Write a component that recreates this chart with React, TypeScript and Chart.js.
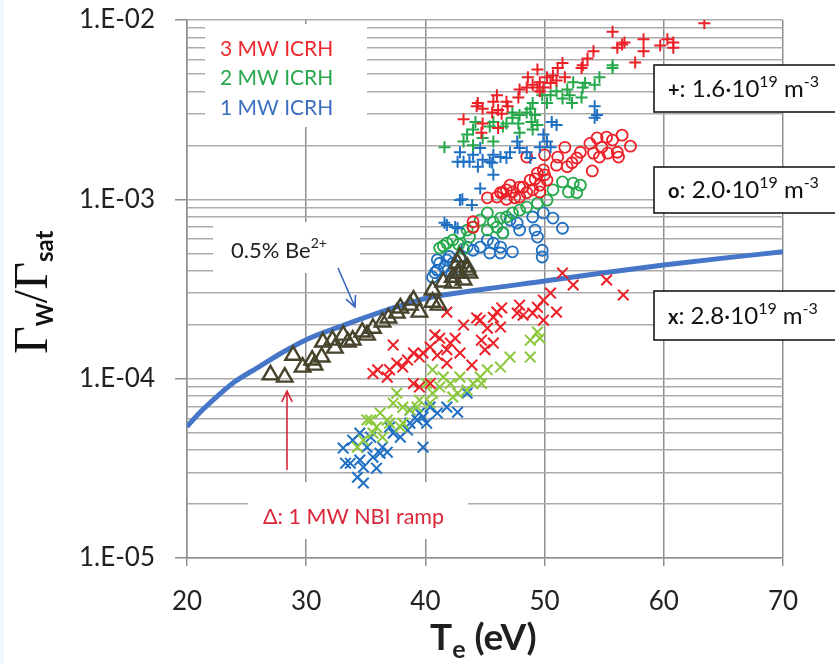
import React, { useEffect, useRef } from 'react';
import { Chart, registerables } from 'chart.js';

Chart.register(...registerables);

type P = [number, number];

const xTickValues = [20, 30, 40, 50, 60, 70];
const yDecades = [1e-5, 1e-4, 1e-3, 1e-2];
const yTickLabels = ['1.E-05', '1.E-04', '1.E-03', '1.E-02'];
const yMinorMantissas = [2, 3, 4, 5, 6, 7, 8, 9];

const seriesNames = [
  'NBI ramp', '3 MW +', '2 MW +', '1 MW +', '3 MW o', '2 MW o', '1 MW o',
  '3 MW x', '2 MW x', '1 MW x', '0.5% Be2+',
];

const redPlus: P[] = [
  [63.4, 9.6e-3], [55.7, 8.6e-3], [56.7, 7.5e-3], [56.5, 7.3e-3], [56.1, 7.0e-3], [58.3, 7.8e-3],
  [58.3, 6.7e-3], [59.7, 7.2e-3], [60.3, 7.8e-3], [60.8, 7.5e-3], [60.8, 7.0e-3], [57.6, 5.8e-3],
  [54.1, 6.7e-3], [53.6, 6.1e-3], [53.2, 5.6e-3], [53.1, 5.4e-3], [51.5, 5.75e-3], [51.1, 5.4e-3],
  [51.7, 4.8e-3], [50.7, 4.9e-3], [50.2, 4.8e-3], [49.6, 4.5e-3], [50.5, 4.45e-3], [49.9, 4.2e-3],
  [49.4, 5.3e-3], [48.6, 4.8e-3], [49.0, 4.35e-3], [48.5, 4.2e-3], [47.9, 4.1e-3], [47.8, 3.7e-3],
  [49.4, 4.2e-3], [51.0, 4.6e-3], [49.6, 4.0e-3], [46.0, 3.8e-3], [45.7, 3.5e-3], [44.4, 3.45e-3],
  [44.3, 3.3e-3], [44.8, 3.2e-3], [46.1, 3.15e-3], [46.8, 3.5e-3], [46.9, 3.3e-3], [46.4, 3.0e-3],
  [45.6, 3.05e-3], [43.2, 2.8e-3], [44.8, 2.65e-3], [44.7, 2.35e-3], [46.1, 2.5e-3],
];

const greenPlus: P[] = [
  [55.7, 5.6e-3], [55.7, 5.4e-3], [54.6, 4.8e-3], [54.2, 4.35e-3], [53.4, 4.45e-3], [53.2, 4.2e-3],
  [52.4, 4.5e-3], [51.9, 4.1e-3], [52.1, 3.8e-3], [51.5, 3.65e-3], [52.3, 3.45e-3], [51.0, 4.0e-3],
  [50.5, 3.8e-3], [50.2, 3.45e-3], [49.8, 3.8e-3], [53.1, 3.7e-3], [49.0, 3.45e-3], [48.8, 3.2e-3],
  [48.5, 3.05e-3], [49.2, 2.95e-3], [47.9, 2.95e-3], [47.3, 3.05e-3], [47.3, 2.85e-3], [47.8, 2.65e-3],
  [46.8, 2.65e-3], [46.5, 2.55e-3], [45.7, 2.7e-3], [45.4, 2.55e-3], [44.2, 2.7e-3], [44.0, 2.45e-3],
  [43.5, 2.3e-3], [43.2, 2.1e-3], [44.8, 2.2e-3], [45.7, 2.1e-3], [47.9, 2.35e-3], [48.9, 2.7e-3],
  [49.4, 2.6e-3], [49.0, 2.45e-3], [41.6, 1.95e-3], [44.0, 2.0e-3],
];

const bluePlus: P[] = [
  [54.2, 3.3e-3], [54.4, 2.95e-3], [54.2, 2.85e-3], [50.6, 2.7e-3], [51.0, 2.6e-3], [49.9, 2.3e-3],
  [50.2, 2.1e-3], [49.6, 1.95e-3], [50.5, 1.95e-3], [47.7, 2.1e-3], [47.9, 1.93e-3], [47.1, 1.83e-3],
  [46.8, 1.7e-3], [45.7, 1.77e-3], [45.4, 1.62e-3], [44.6, 1.93e-3], [44.0, 1.77e-3], [43.7, 1.62e-3],
  [42.9, 1.83e-3], [42.7, 1.62e-3], [48.5, 1.83e-3], [48.8, 1.7e-3], [44.8, 1.66e-3], [45.6, 1.6e-3],
  [44.4, 1.52e-3], [46.3, 1.72e-3], [43.2, 1.62e-3], [45.7, 1.37e-3], [44.6, 1.15e-3], [42.9, 9.9e-4],
  [43.1, 1.0e-3], [43.9, 9.3e-4], [41.8, 7.2e-4], [42.7, 6.9e-4], [41.6, 7.4e-4], [42.5, 7.0e-4],
];

const redCircle: P[] = [
  [51.7, 1.95e-3], [53.0, 1.83e-3], [53.8, 2.05e-3], [54.4, 2.2e-3], [55.2, 2.22e-3], [55.7, 2.14e-3],
  [56.5, 2.28e-3], [57.2, 1.98e-3], [54.8, 1.95e-3], [55.3, 1.81e-3], [56.1, 1.83e-3], [56.2, 1.72e-3],
  [54.1, 1.81e-3], [54.6, 1.72e-3], [52.7, 1.7e-3], [52.3, 1.6e-3], [51.1, 1.72e-3], [51.0, 1.55e-3],
  [51.9, 1.52e-3], [54.0, 1.44e-3], [50.0, 1.77e-3], [48.5, 1.72e-3],
  [47.9, 1.17e-3], [48.8, 1.28e-3], [49.4, 1.4e-3], [49.9, 1.46e-3], [50.2, 1.28e-3], [49.6, 1.2e-3],
  [49.0, 1.13e-3], [48.5, 1.09e-3], [47.9, 1.03e-3], [47.3, 1.1e-3], [46.8, 1.13e-3], [46.3, 1.09e-3],
  [46.0, 1.03e-3], [46.8, 1.0e-3], [46.5, 1.09e-3], [45.2, 1.02e-3], [47.5, 1.02e-3], [48.2, 1.17e-3],
  [49.6, 1.1e-3], [47.1, 1.2e-3], [49.2, 1.3e-3], [50.0, 1.37e-3], [44.0, 7.5e-4], [44.0, 7.0e-4],
];

const greenCircle: P[] = [
  [51.5, 1.25e-3], [52.4, 1.23e-3], [53.0, 1.2e-3], [52.7, 1.09e-3], [52.0, 1.1e-3], [50.7, 1.13e-3],
  [50.2, 9.9e-4], [49.4, 9.5e-4], [48.5, 9.05e-4], [47.9, 8.7e-4], [47.3, 8.4e-4], [46.8, 7.97e-4],
  [46.3, 7.86e-4], [45.7, 7.47e-4], [45.2, 8.4e-4], [44.6, 7.66e-4], [44.0, 7.0e-4], [43.5, 6.74e-4],
  [42.9, 6.5e-4], [42.3, 5.93e-4], [41.8, 5.7e-4], [41.2, 5.35e-4], [45.2, 6.74e-4], [46.0, 7.0e-4],
  [46.5, 6.5e-4], [43.7, 6.16e-4], [41.5, 5.5e-4], [42.8, 5.6e-4], [43.2, 5.3e-4],
];

const blueCircle: P[] = [
  [49.0, 7.97e-4], [49.9, 8.4e-4], [50.7, 7.86e-4], [51.5, 6.9e-4], [49.2, 6.74e-4], [49.4, 6.16e-4],
  [47.9, 6.74e-4], [47.7, 7.37e-4], [47.1, 7.66e-4], [46.5, 6.5e-4], [46.3, 5.42e-4], [45.7, 5.7e-4],
  [45.2, 5.93e-4], [44.6, 5.42e-4], [44.0, 5.2e-4], [43.5, 5.42e-4], [42.9, 4.77e-4], [42.3, 4.4e-4],
  [41.8, 4.58e-4], [41.2, 4.4e-4], [41.0, 4.03e-4], [40.6, 3.68e-4], [49.8, 5.2e-4], [49.8, 4.77e-4],
  [46.3, 5.02e-4], [47.3, 5.1e-4], [45.4, 5.02e-4], [41.0, 4.6e-4], [41.6, 4.2e-4], [42.2, 3.9e-4],
  [40.8, 3.9e-4], [42.0, 4.8e-4],
];

const redCross: P[] = [
  [51.5, 3.88e-4], [52.4, 3.33e-4], [55.2, 3.55e-4], [56.6, 2.93e-4], [51.0, 2.35e-4], [50.5, 3.0e-4],
  [49.9, 2.74e-4], [49.4, 2.5e-4], [49.9, 2.12e-4], [49.0, 2.32e-4], [47.9, 2.57e-4], [47.7, 2.32e-4],
  [48.2, 2.26e-4], [46.4, 2.48e-4], [46.0, 2.35e-4], [45.7, 2.2e-4], [46.3, 1.94e-4], [45.2, 1.91e-4],
  [44.6, 2.12e-4], [44.3, 2.18e-4], [43.2, 1.99e-4], [41.8, 2.35e-4], [44.7, 1.64e-4], [45.7, 1.58e-4],
  [45.0, 1.45e-4], [42.5, 1.68e-4], [42.1, 1.58e-4], [41.8, 1.45e-4], [41.2, 1.68e-4], [40.8, 1.75e-4],
  [40.4, 1.5e-4], [39.8, 1.39e-4], [39.5, 1.32e-4], [39.0, 1.39e-4], [38.5, 1.27e-4], [38.1, 1.16e-4],
  [37.6, 1.22e-4], [37.0, 1.12e-4], [37.3, 1.54e-4], [36.0, 1.12e-4], [35.6, 1.07e-4], [36.8, 1.02e-4],
  [42.9, 1.39e-4], [43.9, 1.19e-4], [41.8, 1.22e-4], [41.0, 1.35e-4], [40.4, 9.4e-5], [39.5, 8.98e-5],
  [39.0, 9.4e-5],
];

const greenCross: P[] = [
  [49.4, 1.82e-4], [48.8, 1.64e-4], [49.6, 1.68e-4], [47.1, 1.32e-4], [46.3, 1.16e-4], [48.8, 1.32e-4],
  [45.2, 1.12e-4], [44.6, 1.02e-4], [44.0, 9.4e-5], [43.5, 8.64e-5], [42.7, 8.3e-5], [42.9, 1.02e-4],
  [42.1, 9.4e-5], [42.3, 7.9e-5], [41.2, 8.98e-5], [40.6, 8.3e-5], [41.5, 1.02e-4], [40.4, 7.3e-5],
  [39.5, 7.6e-5], [39.3, 6.94e-5], [38.1, 6.94e-5], [37.3, 7.3e-5], [36.8, 5.88e-5], [36.2, 6.43e-5],
  [35.9, 5.37e-5], [35.1, 5.88e-5], [34.8, 4.54e-5], [34.3, 4.15e-5], [37.6, 8.3e-5], [38.1, 5.65e-5],
  [38.7, 6.68e-5], [35.4, 5.88e-5], [36.4, 4.72e-5], [35.6, 4.97e-5], [37.0, 5.65e-5], [37.9, 5.37e-5],
  [44.7, 9.4e-5], [40.1, 9.4e-5], [40.6, 1.12e-4],
];

const blueCross: P[] = [
  [43.5, 8.3e-5], [42.7, 6.5e-5], [41.8, 6.94e-5], [41.0, 6.43e-5], [40.4, 6.94e-5], [39.8, 6.1e-5],
  [40.1, 5.65e-5], [39.3, 5.88e-5], [39.5, 6.43e-5], [38.7, 6.68e-5], [38.5, 5.17e-5], [37.9, 4.72e-5],
  [37.0, 5.37e-5], [36.8, 3.89e-5], [36.2, 3.84e-5], [35.6, 3.65e-5], [35.9, 3.17e-5], [35.1, 4.15e-5],
  [34.5, 3.52e-5], [33.9, 4.54e-5], [33.7, 3.38e-5], [33.3, 3.38e-5], [33.1, 4.1e-5], [34.8, 3.21e-5],
  [34.3, 2.82e-5], [34.8, 2.62e-5], [39.8, 4.15e-5], [37.3, 4.97e-5], [38.7, 5.65e-5], [36.4, 4.15e-5],
  [35.4, 4.72e-5], [34.5, 4.97e-5],
];

const nbiTriangles: P[] = [
  [27.0, 1.05e-4], [28.2, 1.02e-4], [28.9, 1.35e-4], [29.7, 1.16e-4], [30.5, 1.27e-4], [30.7, 1.19e-4],
  [31.3, 1.32e-4], [31.4, 1.6e-4], [32.2, 1.64e-4], [32.4, 1.48e-4], [33.1, 1.75e-4], [33.5, 1.6e-4],
  [33.9, 1.64e-4], [34.7, 1.82e-4], [35.1, 1.75e-4], [35.6, 1.91e-4], [36.4, 2.07e-4], [36.9, 2.18e-4],
  [37.6, 2.32e-4], [37.9, 2.48e-4], [38.7, 2.57e-4], [39.0, 2.74e-4], [39.5, 2.35e-4], [40.6, 2.67e-4],
  [41.1, 2.57e-4], [40.6, 3.12e-4], [41.5, 3.46e-4], [42.3, 3.68e-4], [42.9, 3.88e-4], [43.5, 4.03e-4],
  [42.7, 4.4e-4], [42.9, 4.77e-4], [43.5, 4.19e-4], [42.7, 3.88e-4], [42.3, 3.41e-4], [43.2, 3.55e-4],
  [43.7, 3.88e-4],
];

const beX = [20, 21, 22, 24, 26, 28, 30, 33, 36, 40, 45, 50, 55, 60, 65, 70];
const beY = [5.4e-5, 6.4e-5, 7.4e-5, 9.6e-5, 1.16e-4, 1.4e-4, 1.65e-4, 1.97e-4, 2.32e-4, 2.8e-4, 3.16e-4, 3.5e-4, 3.9e-4, 4.3e-4, 4.7e-4, 5.1e-4];

const RED = '#ec2027';
const GREEN = '#24a84a';
const BLUE = '#1f6fc3';
const LIGHTGREEN = '#8cc83c';
const OLIVE = '#48432c';
const LINEBLUE = '#4676c8';

const yGridValues: number[] = [];
yDecades.forEach((d, i) => {
  yGridValues.push(d);
  if (i < yDecades.length - 1) yMinorMantissas.forEach((m) => yGridValues.push(m * d));
});

const isDecade = (v: number) => yDecades.some((d) => Math.abs(v - d) / d < 1e-6);

type Seg = { t: string; font: string; dy?: number; color?: string };
function drawRich(ctx: CanvasRenderingContext2D, x: number, y: number, segs: Seg[], color: string) {
  let cx = x;
  ctx.textAlign = 'left';
  ctx.textBaseline = 'alphabetic';
  for (const s of segs) {
    ctx.font = s.font;
    ctx.fillStyle = s.color || color;
    ctx.fillText(s.t, cx, y + (s.dy || 0));
    cx += ctx.measureText(s.t).width;
  }
}

function arrow(ctx: CanvasRenderingContext2D, x1: number, y1: number, x2: number, y2: number, color: string) {
  ctx.save();
  ctx.strokeStyle = color;
  ctx.lineWidth = 1.6;
  ctx.beginPath();
  ctx.moveTo(x1, y1);
  ctx.lineTo(x2, y2);
  const a = Math.atan2(y2 - y1, x2 - x1);
  const h = 12;
  ctx.moveTo(x2 - h * Math.cos(a - 0.45), y2 - h * Math.sin(a - 0.45));
  ctx.lineTo(x2, y2);
  ctx.lineTo(x2 - h * Math.cos(a + 0.45), y2 - h * Math.sin(a + 0.45));
  ctx.stroke();
  ctx.restore();
}

const annotPlugin = {
  id: 'annot',
  beforeDraw(chart: any) {
    const c = chart.ctx as CanvasRenderingContext2D;
    c.save();
    c.fillStyle = '#ffffff';
    c.fillRect(0, 0, chart.width, chart.height);
    c.fillStyle = '#eef9fd';
    c.fillRect(0, 0, 4, chart.height);
    c.restore();
  },
  beforeDatasetsDraw(chart: any) {
    const c = chart.ctx as CanvasRenderingContext2D;
    c.save();
    c.fillStyle = '#ffffff';
    c.fillRect(205, 24, 162, 103);
    c.fillRect(213, 222, 147, 51);
    c.fillRect(248, 482, 220, 57);
    c.restore();
  },
  afterDraw(chart: any) {
    const c = chart.ctx as CanvasRenderingContext2D;
    c.save();
    drawRich(c, 220, 56, [{ t: '3 MW ICRH', font: '21px Lato' }], '#ee2a2f');
    drawRich(c, 220, 85, [{ t: '2 MW ICRH', font: '21px Lato' }], '#2aa64c');
    drawRich(c, 220, 115, [{ t: '1 MW ICRH', font: '21px Lato' }], '#3d6fbf');
    drawRich(c, 231, 258, [
      { t: '0.5% Be', font: '22px Lato' },
      { t: '2+', font: '14px Lato', dy: -10 },
    ], '#222');
    drawRich(c, 263, 524, [{ t: '\u0394: 1 MW NBI ramp', font: '21.5px Lato' }], '#d9273a');
    arrow(c, 338, 268, 355, 307, '#3a66c0');
    arrow(c, 287, 470, 287, 391, '#d9273a');
    const boxes = [
      { y: 65, h: 47, sym: '+', val: '1.6', base: 97 },
      { y: 167, h: 46, sym: 'o', val: '2.0', base: 198 },
      { y: 291, h: 49, sym: 'x', val: '2.8', base: 324 },
    ];
    for (const b of boxes) {
      c.fillStyle = '#ffffff';
      c.fillRect(654, b.y, 200, b.h);
      c.strokeStyle = '#1a1a1a';
      c.lineWidth = 1.6;
      c.strokeRect(654, b.y, 200, b.h);
      drawRich(c, 668, b.base, [
        { t: b.sym, font: 'bold 20px Lato' },
        { t: ': ' + b.val + '\u00b710', font: '24px Lato' },
        { t: '19', font: '16px Lato', dy: -10 },
        { t: ' m', font: '24px Lato' },
        { t: '-3', font: '16px Lato', dy: -10 },
      ], '#111');
    }
    drawRich(c, 430, 650, [
      { t: 'T', font: 'bold 37px Lato' },
      { t: 'e', font: 'bold 25px Lato', dy: 8 },
      { t: ' (eV)', font: 'bold 37px Lato' },
    ], '#1f1f1f');
    c.translate(47, 354);
    c.rotate(-Math.PI / 2);
    drawRich(c, 0, 0, [
      { t: '\u0393', font: '48px "Liberation Serif"' },
      { t: 'W', font: 'bold 22px Lato', dy: 6 },
      { t: '/\u0393', font: '48px "Liberation Serif"' },
      { t: 'sat', font: 'bold 24px Lato', dy: 6 },
    ], '#111');
    c.restore();
  },
};

function pts(a: P[]) {
  return a.map(([x, y]) => ({ x, y }));
}

export default function App() {
  const ref = useRef<HTMLCanvasElement | null>(null);
  useEffect(() => {
    document.body.style.margin = '0';
    const canvas = ref.current!;
    const mk = (label: string, data: P[], style: string, color: string, r: number, bw: number) => ({
      label,
      data: pts(data),
      pointStyle: style,
      pointRadius: r,
      pointHoverRadius: r,
      borderColor: color,
      backgroundColor: 'rgba(0,0,0,0)',
      pointBorderWidth: bw,
      borderWidth: bw,
      showLine: false,
    });
    const chart = new Chart(canvas, {
      type: 'scatter',
      data: {
        datasets: [
          mk(seriesNames[0], nbiTriangles, 'triangle', OLIVE, 9, 2.4),
          mk(seriesNames[1], redPlus, 'cross', RED, 6, 2),
          mk(seriesNames[2], greenPlus, 'cross', GREEN, 6, 2),
          mk(seriesNames[3], bluePlus, 'cross', BLUE, 6, 2),
          mk(seriesNames[4], redCircle, 'circle', RED, 5.5, 1.8),
          mk(seriesNames[5], greenCircle, 'circle', GREEN, 5.5, 1.8),
          mk(seriesNames[6], blueCircle, 'circle', BLUE, 5.5, 1.8),
          mk(seriesNames[7], redCross, 'crossRot', RED, 7.5, 2),
          mk(seriesNames[8], greenCross, 'crossRot', LIGHTGREEN, 7.5, 2),
          mk(seriesNames[9], blueCross, 'crossRot', BLUE, 7.5, 2),
          {
            label: seriesNames[10],
            data: beX.map((x, i) => ({ x, y: beY[i] })),
            showLine: true,
            borderColor: LINEBLUE,
            borderWidth: 5,
            pointRadius: 0,
            cubicInterpolationMode: 'monotone',
            fill: false,
          } as any,
        ],
      },
      options: {
        animation: false,
        responsive: false,
        maintainAspectRatio: false,
        devicePixelRatio: 1,
        layout: { padding: { left: 0, top: 20, right: 52, bottom: 0 } },
        plugins: { legend: { display: false }, tooltip: { enabled: false } },
        scales: {
          x: {
            type: 'linear',
            min: xTickValues[0],
            max: xTickValues[xTickValues.length - 1],
            afterBuildTicks: (s: any) => {
              s.ticks = xTickValues.map((v) => ({ value: v }));
            },
            afterFit: (s: any) => {
              s.height = 106;
              s.paddingLeft = 0;
              s.paddingRight = 0;
            },
            ticks: {
              autoSkip: false,
              maxRotation: 0,
              padding: 20,
              color: '#222',
              font: { family: 'Lato', size: 26 },
            },
            grid: { color: '#8f8f8f', lineWidth: 1.5, tickLength: 8, tickColor: '#8f8f8f' },
            border: { color: '#8f8f8f', width: 1.5 },
          },
          y: {
            type: 'logarithmic',
            min: yDecades[0],
            max: yDecades[yDecades.length - 1],
            afterBuildTicks: (s: any) => {
              s.ticks = yGridValues.map((v) => ({ value: v, major: isDecade(v) }));
            },
            afterFit: (s: any) => {
              s.width = 187;
              s.paddingTop = 0;
              s.paddingBottom = 0;
            },
            ticks: {
              autoSkip: false,
              padding: 20,
              color: '#222',
              font: { family: 'Lato', size: 26 },
              callback: (v: any) => {
                const i = yDecades.findIndex((d) => Math.abs(Number(v) - d) / d < 1e-6);
                return i >= 0 ? yTickLabels[i] : '';
              },
            },
            grid: {
              color: '#ababab',
              lineWidth: 1.5,
              tickLength: 12,
              tickColor: (ctx: any) => (ctx.tick && isDecade(ctx.tick.value) ? '#8f8f8f' : 'rgba(0,0,0,0)'),
            },
            border: { color: '#8f8f8f', width: 1.5 },
          },
        },
      },
      plugins: [annotPlugin],
    } as any);
    return () => chart.destroy();
  }, []);
  return <canvas ref={ref} width={835} height={664} style={{ display: 'block', width: 835, height: 664 }} />;
}
